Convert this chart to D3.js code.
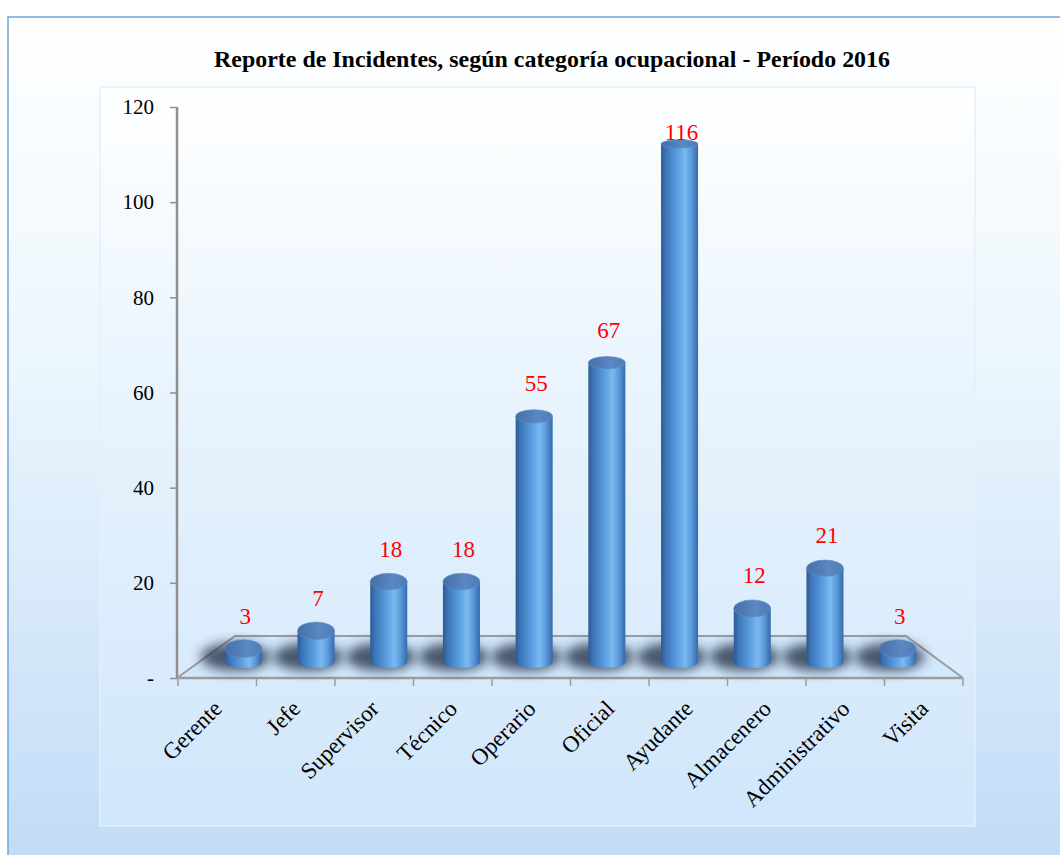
<!DOCTYPE html>
<html>
<head>
<meta charset="utf-8">
<script src="https://cdn.jsdelivr.net/npm/d3@7"></script>
<style>
  body { margin: 0; background: #fff; }
  svg { display: block; }
</style>
</head>
<body>
<div id="chart"></div>
<script>
// data
const categories = ["Gerente", "Jefe", "Supervisor", "Técnico", "Operario",
  "Oficial", "Ayudante", "Almacenero", "Administrativo", "Visita"];
const values = [3, 7, 18, 18, 55, 67, 116, 12, 21, 3];
const yTicks = [0, 20, 40, 60, 80, 100, 120];
const yTickLabels = ["-", "20", "40", "60", "80", "100", "120"];
const title = "Reporte de Incidentes, según categoría ocupacional - Período 2016";

const serif = "'Liberation Serif', 'Times New Roman', serif";

// svg container
const svgWidth = 1060, svgHeight = 855;
const svg = d3.select("#chart").append("svg")
  .attr("width", svgWidth)
  .attr("height", svgHeight);

const defs = svg.append("defs");

// background gradients
const bgOuter = defs.append("linearGradient").attr("id", "bgOuter")
  .attr("x1", 0).attr("y1", 0).attr("x2", 0).attr("y2", 1);
bgOuter.append("stop").attr("offset", "0%").attr("stop-color", "#ffffff");
bgOuter.append("stop").attr("offset", "40%").attr("stop-color", "#ecf6fd");
bgOuter.append("stop").attr("offset", "100%").attr("stop-color", "#c0dbf7");

const bgInner = defs.append("linearGradient").attr("id", "bgInner")
  .attr("x1", 0).attr("y1", 0).attr("x2", 0).attr("y2", 1);
bgInner.append("stop").attr("offset", "0%").attr("stop-color", "#ffffff");
bgInner.append("stop").attr("offset", "40%").attr("stop-color", "#e9f4fd");
bgInner.append("stop").attr("offset", "100%").attr("stop-color", "#d0e6fb");

// cylinder body gradient
const bodyGrad = defs.append("linearGradient").attr("id", "bodyGrad")
  .attr("x1", 0).attr("y1", 0).attr("x2", 1).attr("y2", 0);
[["0%", "#2c5a92"], ["12%", "#3b74b6"], ["45%", "#5b9fe0"], ["65%", "#7cb9f0"],
 ["82%", "#5a99dc"], ["100%", "#3669a8"]].forEach(([o, c]) =>
  bodyGrad.append("stop").attr("offset", o).attr("stop-color", c));

const topGrad = defs.append("linearGradient").attr("id", "topGrad")
  .attr("x1", 0).attr("y1", 0).attr("x2", 1).attr("y2", 0);
[["0%", "#456fa6"], ["60%", "#5a88c2"], ["100%", "#4d7cb6"]].forEach(([o, c]) =>
  topGrad.append("stop").attr("offset", o).attr("stop-color", c));

// shadow blur
defs.append("filter").attr("id", "blur")
  .attr("x", "-50%").attr("y", "-100%").attr("width", "200%").attr("height", "300%")
  .append("feGaussianBlur").attr("stdDeviation", 6);

// outer frame
svg.append("rect")
  .attr("x", 8).attr("y", 17)
  .attr("width", svgWidth).attr("height", svgHeight)
  .attr("fill", "url(#bgOuter)")
  .attr("stroke", "#6fa6dc")
  .attr("stroke-width", 1.5);

// inner plot area
svg.append("rect")
  .attr("x", 100).attr("y", 87)
  .attr("width", 875).attr("height", 739)
  .attr("fill", "url(#bgInner)")
  .attr("stroke", "#e4f0fb")
  .attr("stroke-width", 1.5);

// title
svg.append("text")
  .attr("x", 552).attr("y", 67)
  .attr("text-anchor", "middle")
  .attr("textLength", 676)
  .attr("lengthAdjust", "spacingAndGlyphs")
  .style("font-family", serif)
  .style("font-size", "23px")
  .style("font-weight", "bold")
  .text(title);

// scales
const yScale = d3.scaleLinear().domain([0, 120]).range([678, 107]);
const xFront = d3.scaleBand().domain(categories).range([178, 963]);
const xMid = d3.scaleBand().domain(categories).range([207, 934]);
const yBar = d3.scaleLinear().domain([0, 120]).range([662, 126]);

// floor
const floorPts = [[235, 636], [906, 636], [963, 678], [177, 678]];
svg.append("path")
  .attr("d", d3.line()(floorPts) + "Z")
  .attr("fill", "#d2e8fb")
  .attr("stroke", "none");
svg.append("path")
  .attr("d", d3.line()([[177, 678], [235, 636], [906, 636], [963, 678]]))
  .attr("fill", "none")
  .attr("stroke", "#9c9c9c")
  .attr("stroke-width", 2);

// y axis
const yAxis = d3.axisLeft(yScale)
  .tickValues(yTicks)
  .tickSize(7)
  .tickFormat((d, i) => yTickLabels[i]);
const yG = svg.append("g")
  .attr("transform", "translate(177,0)")
  .call(yAxis);
yG.select(".domain").attr("stroke", "#8f8f8f").attr("stroke-width", 2.5)
  .attr("d", "M0,107V678");
yG.selectAll(".tick line").attr("stroke", "#8f8f8f").attr("stroke-width", 1.5);
yG.selectAll(".tick text")
  .attr("x", -23)
  .style("font-family", serif)
  .style("font-size", "21px")
  .attr("fill", "#000");

// x axis
const xAxis = d3.axisBottom(xFront).tickSize(0).tickFormat("");
const xG = svg.append("g")
  .attr("transform", "translate(0,678)")
  .call(xAxis);
xG.select(".domain").attr("stroke", "#9c9c9c").attr("stroke-width", 2.5)
  .attr("d", "M177,0H963");
xG.selectAll(".tick").remove();
// tick marks at the band edges
xG.selectAll(".edge")
  .data(categories.concat(["__end"]))
  .enter().append("line")
  .attr("x1", (d, i) => i < categories.length ? xFront(d) : xFront.range()[1])
  .attr("x2", (d, i) => i < categories.length ? xFront(d) : xFront.range()[1])
  .attr("y1", 0).attr("y2", 8)
  .attr("stroke", "#9c9c9c").attr("stroke-width", 1.5);

// category labels
svg.selectAll(".xlabel")
  .data(categories)
  .enter().append("text")
  .attr("class", "xlabel")
  .attr("text-anchor", "end")
  .attr("transform", d => `translate(${xFront(d) + xFront.bandwidth() / 2 + 6},710) rotate(-45)`)
  .style("font-family", serif)
  .style("font-size", "23px")
  .text(d => d);

// bars as cylinders
const barW = 37, rx = barW / 2, ryBot = 6;
const bars = svg.selectAll(".bar")
  .data(values)
  .enter().append("g")
  .attr("class", "bar");

// shadows on the floor
bars.append("ellipse")
  .attr("cx", (d, i) => xMid(categories[i]) + xMid.bandwidth() / 2 - 8)
  .attr("cy", 657)
  .attr("rx", 35)
  .attr("ry", 14)
  .attr("fill", "#26324a")
  .attr("opacity", 0.8)
  .attr("filter", "url(#blur)");

const ryTop = d => 4 + 5 * (1 - d / 120);

bars.append("path")
  .attr("d", (d, i) => {
    const cx = xMid(categories[i]) + xMid.bandwidth() / 2;
    const x0 = cx - rx, x1 = cx + rx;
    const yt = yBar(d), yb = yBar(0);
    return `M${x0},${yt}L${x0},${yb}A${rx},${ryBot} 0 0 0 ${x1},${yb}L${x1},${yt}Z`;
  })
  .attr("fill", "url(#bodyGrad)");

bars.append("ellipse")
  .attr("cx", (d, i) => xMid(categories[i]) + xMid.bandwidth() / 2)
  .attr("cy", d => yBar(d))
  .attr("rx", rx)
  .attr("ry", d => ryTop(d))
  .attr("fill", "url(#topGrad)")
  .attr("stroke", "#5d8fc8")
  .attr("stroke-width", 0.6);

// value labels
bars.append("text")
  .attr("x", (d, i) => xMid(categories[i]) + xMid.bandwidth() / 2 + 2)
  .attr("y", d => Math.max(yBar(d) - 25, 140))
  .attr("text-anchor", "middle")
  .style("font-family", serif)
  .style("font-size", "23px")
  .attr("fill", "#ff0000")
  .text(d => d);
</script>
</body>
</html>
